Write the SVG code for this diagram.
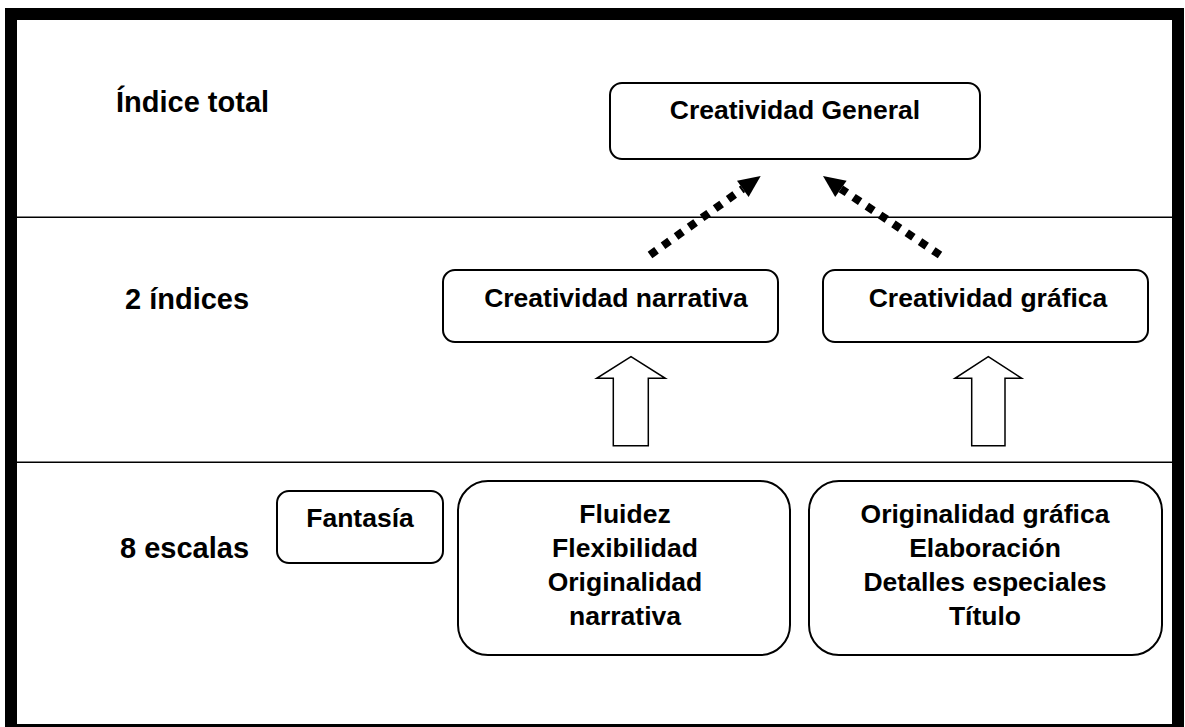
<svg xmlns="http://www.w3.org/2000/svg" width="1185" height="727" viewBox="0 0 1185 727">
  <style>
    .box { fill: #ffffff; stroke: #000000; stroke-width: 2; }
    .lbl { font-family: "Liberation Sans", Arial, sans-serif; font-weight: bold; font-size: 29px; fill: #000000; }
    .txt { font-family: "Liberation Sans", Arial, sans-serif; font-weight: bold; font-size: 26.5px; fill: #000000; text-anchor: middle; }
    .sep { stroke: #000000; stroke-width: 1.4; }
    .dot { stroke: #000000; stroke-width: 8; stroke-dasharray: 8 8; fill: none; }
    .hollow { fill: #ffffff; stroke: #000000; stroke-width: 1.5; stroke-linejoin: miter; }
  </style>
  <rect x="0" y="0" width="1185" height="727" fill="#ffffff"/>
  <rect x="11" y="14" width="1167" height="716" fill="none" stroke="#000000" stroke-width="12"/>
  <line class="sep" x1="17" y1="217.3" x2="1172" y2="217.3"/>
  <line class="sep" x1="17" y1="462.3" x2="1172" y2="462.3"/>

  <g id="labels">
    <text class="lbl" x="116" y="112">Índice total</text>
    <text class="lbl" x="125" y="309">2 índices</text>
    <text class="lbl" x="120" y="558">8 escalas</text>
  </g>

  <g id="node-general">
    <rect class="box" x="610" y="83" width="370" height="76" rx="12"/>
    <text class="txt" x="795" y="119">Creatividad General</text>
  </g>
  <g id="node-narrativa">
    <rect class="box" x="443" y="270" width="335" height="72" rx="12"/>
    <text class="txt" x="616" y="307">Creatividad narrativa</text>
  </g>
  <g id="node-grafica">
    <rect class="box" x="823" y="270" width="325" height="72" rx="12"/>
    <text class="txt" x="988" y="307">Creatividad gráfica</text>
  </g>
  <g id="node-fantasia">
    <rect class="box" x="277" y="491" width="166" height="72" rx="12"/>
    <text class="txt" x="360" y="527">Fantasía</text>
  </g>
  <g id="node-escalas-narrativa">
    <rect class="box" x="458" y="481" width="332" height="174" rx="30"/>
    <text class="txt" x="625" y="523">Fluidez</text>
    <text class="txt" x="625" y="557">Flexibilidad</text>
    <text class="txt" x="625" y="591">Originalidad</text>
    <text class="txt" x="625" y="625">narrativa</text>
  </g>
  <g id="node-escalas-grafica">
    <rect class="box" x="809" y="481" width="353" height="174" rx="30"/>
    <text class="txt" x="985" y="523">Originalidad gráfica</text>
    <text class="txt" x="985" y="557">Elaboración</text>
    <text class="txt" x="985" y="591">Detalles especiales</text>
    <text class="txt" x="985" y="625">Título</text>
  </g>

  <g id="connectors">
    <line class="dot" x1="650" y1="255" x2="742.8" y2="188.8"/>
    <polygon points="760.7,176 748.6,196.9 737,180.7" fill="#000000"/>
    <line class="dot" x1="940" y1="255" x2="840.9" y2="188.8"/>
    <polygon points="823,176 846.6,180.7 835.2,196.9" fill="#000000"/>
    <polygon class="hollow" points="631,356.7 665.3,378.3 648.3,378.3 648.3,445.7 613.3,445.7 613.3,378.3 596.7,378.3"/>
    <polygon class="hollow" points="988.3,356.7 1021.7,378.3 1005,378.3 1005,445.7 971.7,445.7 971.7,378.3 955,378.3"/>
  </g>
</svg>
